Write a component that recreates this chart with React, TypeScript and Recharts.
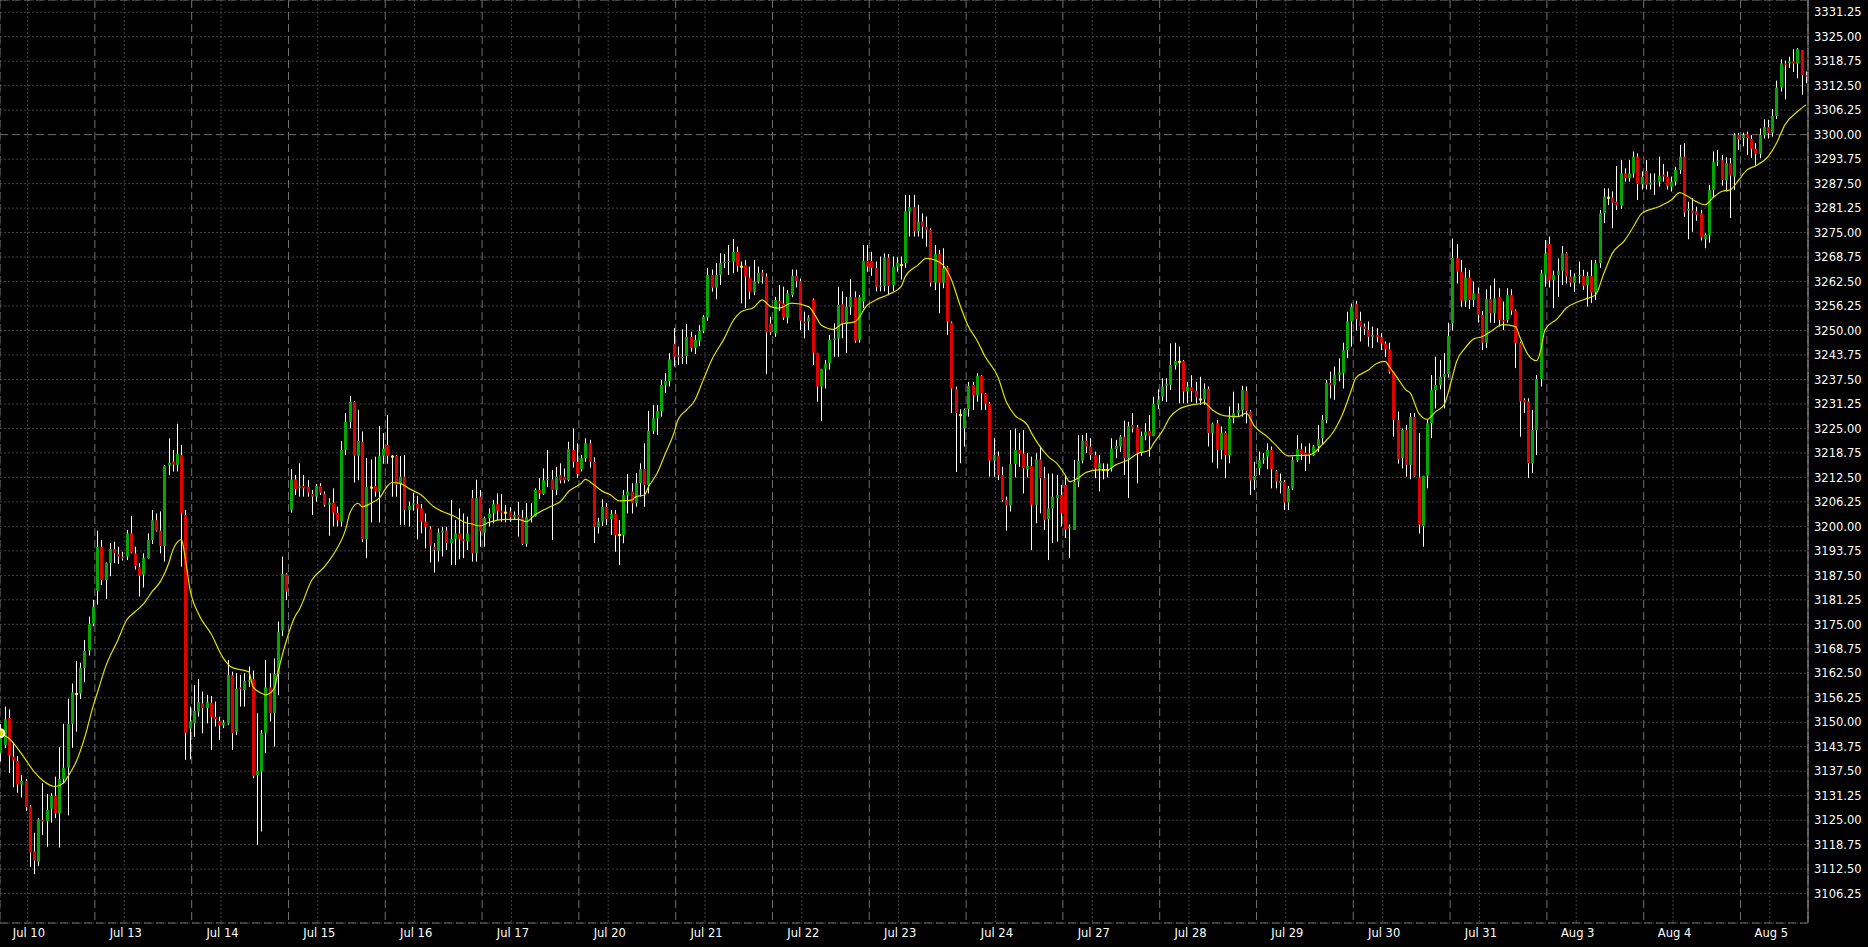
import { ComposedChart, Bar, Line, XAxis, YAxis, CartesianGrid } from 'recharts';

const dayLabels = [
  'Jul 10', 'Jul 13', 'Jul 14', 'Jul 15', 'Jul 16', 'Jul 17', 'Jul 20', 'Jul 21', 'Jul 22', 'Jul 23',
  'Jul 24', 'Jul 27', 'Jul 28', 'Jul 29', 'Jul 30', 'Jul 31', 'Aug 3', 'Aug 4', 'Aug 5',
];

const priceTicks = [
  3106.25, 3112.5, 3118.75, 3125, 3131.25, 3137.5, 3143.75, 3150, 3156.25, 3162.5, 3168.75, 3175,
  3181.25, 3187.5, 3193.75, 3200, 3206.25, 3212.5, 3218.75, 3225, 3231.25, 3237.5, 3243.75, 3250,
  3256.25, 3262.5, 3268.75, 3275, 3281.25, 3287.5, 3293.75, 3300, 3306.25, 3312.5, 3318.75, 3325, 3331.25,
];

// horizontal level drawn dashed
const levelPrice = 3300;

// H1 bars: [open, high, low, close]
const candles: number[][] = [
  // Jul 10
  [3142.2, 3149.5, 3140.0, 3146.5], [3144.2, 3154.0, 3143.4, 3150.8], [3151.1, 3153.3, 3137.0, 3141.5],
  [3141.2, 3144.8, 3133.4, 3140.2], [3140.1, 3141.4, 3132.0, 3134.1], [3134.1, 3136.5, 3130.8, 3135.0],
  [3135.0, 3135.5, 3127.4, 3128.3], [3128.5, 3128.9, 3113.1, 3116.7], [3117.0, 3121.8, 3111.2, 3114.7],
  [3114.4, 3125.5, 3113.3, 3125.2], [3125.1, 3134.4, 3121.2, 3124.6], [3124.8, 3131.7, 3118.2, 3127.6],
  [3127.9, 3131.9, 3124.4, 3131.2], [3131.2, 3136.1, 3125.5, 3126.7], [3126.7, 3143.6, 3118.0, 3135.5],
  [3135.5, 3149.6, 3134.4, 3138.4], [3138.4, 3156.0, 3126.2, 3149.6], [3149.6, 3159.9, 3143.5, 3157.6],
  [3157.2, 3165.6, 3147.6, 3157.2], [3157.3, 3165.2, 3155.9, 3163.9], [3163.9, 3171.0, 3160.2, 3168.2],
  [3168.3, 3177.0, 3167.0, 3175.1], [3175.1, 3181.2, 3174.5, 3179.5],
  // Jul 13
  [3183.6, 3198.9, 3180.0, 3194.8], [3194.8, 3196.5, 3185.0, 3186.3], [3186.3, 3190.8, 3181.5, 3190.6],
  [3190.6, 3195.7, 3187.3, 3194.2], [3194.2, 3196.1, 3190.6, 3193.1], [3193.0, 3194.8, 3190.4, 3192.3],
  [3192.3, 3193.5, 3191.3, 3191.8], [3192.3, 3199.1, 3191.4, 3198.2], [3198.2, 3202.7, 3193.1, 3193.3],
  [3193.1, 3194.8, 3189.0, 3189.9], [3189.6, 3190.6, 3182.1, 3187.4], [3187.7, 3193.1, 3184.4, 3191.9],
  [3191.9, 3198.2, 3191.8, 3196.5], [3196.5, 3204.2, 3195.5, 3201.6], [3201.6, 3203.3, 3198.7, 3198.9],
  [3198.9, 3203.8, 3193.1, 3195.0], [3195.0, 3215.7, 3191.0, 3215.4], [3215.6, 3222.5, 3213.1, 3216.3],
  [3216.5, 3219.5, 3214.0, 3215.8], [3215.7, 3226.2, 3214.0, 3218.5], [3218.2, 3220.8, 3189.7, 3203.3],
  [3202.9, 3204.2, 3140.4, 3147.3], [3148.4, 3154.0, 3140.5, 3150.2],
  // Jul 14
  [3149.7, 3159.5, 3146.3, 3152.9], [3152.7, 3161.0, 3151.4, 3155.1], [3154.8, 3157.8, 3147.2, 3153.6],
  [3153.6, 3157.0, 3149.7, 3155.1], [3155.0, 3156.7, 3142.9, 3151.4], [3151.4, 3155.3, 3148.9, 3150.8],
  [3150.3, 3151.4, 3145.5, 3149.1], [3149.2, 3150.6, 3148.5, 3149.9], [3149.7, 3165.9, 3149.3, 3162.0],
  [3162.0, 3162.9, 3142.9, 3147.2], [3147.6, 3162.5, 3146.7, 3158.6], [3158.9, 3162.1, 3154.0, 3158.4],
  [3158.2, 3162.5, 3154.0, 3160.5], [3160.4, 3164.2, 3159.0, 3160.8], [3161.0, 3163.2, 3135.7, 3136.3],
  [3136.5, 3152.3, 3118.7, 3137.6], [3137.4, 3148.0, 3122.1, 3147.2], [3147.3, 3165.9, 3142.1, 3158.9],
  [3158.9, 3162.5, 3150.2, 3152.3], [3152.3, 3166.3, 3143.8, 3162.3], [3162.3, 3175.7, 3156.9, 3173.1],
  [3173.4, 3192.3, 3172.0, 3187.8], [3187.8, 3188.0, 3181.2, 3183.3],
  // Jul 15
  [3204.2, 3214.6, 3203.5, 3212.0], [3212.0, 3213.1, 3208.0, 3209.5], [3209.8, 3216.1, 3207.6, 3210.2],
  [3210.3, 3213.1, 3207.6, 3209.7], [3210.1, 3211.8, 3207.6, 3208.6], [3208.3, 3209.3, 3202.9, 3207.6],
  [3207.6, 3210.8, 3206.3, 3210.3], [3210.3, 3211.0, 3208.0, 3208.6], [3208.3, 3208.9, 3205.0, 3205.5],
  [3205.5, 3207.2, 3197.6, 3206.1], [3206.1, 3209.7, 3200.0, 3203.5], [3203.5, 3205.0, 3200.0, 3201.5],
  [3201.2, 3221.8, 3200.0, 3219.5], [3219.5, 3228.9, 3218.2, 3226.7], [3226.7, 3233.3, 3225.0, 3231.8],
  [3231.8, 3232.0, 3211.2, 3218.0], [3218.0, 3229.7, 3211.8, 3221.8], [3221.6, 3224.2, 3196.0, 3196.7],
  [3196.7, 3217.4, 3191.9, 3210.1], [3209.9, 3217.1, 3201.0, 3209.9], [3210.3, 3217.8, 3207.6, 3208.9],
  [3208.9, 3225.6, 3201.0, 3218.0], [3218.0, 3223.8, 3216.0, 3219.9],
  // Jul 16
  [3220.8, 3228.4, 3216.0, 3218.0], [3217.8, 3218.2, 3207.6, 3217.8], [3218.0, 3218.2, 3207.6, 3210.6],
  [3210.8, 3218.0, 3200.4, 3212.7], [3212.7, 3218.2, 3200.4, 3204.2], [3204.2, 3206.3, 3200.0, 3205.2],
  [3205.5, 3208.6, 3204.0, 3205.9], [3205.7, 3207.8, 3196.7, 3204.6], [3204.6, 3205.7, 3198.2, 3201.2],
  [3201.2, 3203.3, 3194.4, 3199.9], [3199.5, 3200.0, 3190.8, 3195.1], [3194.8, 3195.7, 3188.2, 3194.0],
  [3193.8, 3199.5, 3191.0, 3198.4], [3198.4, 3199.9, 3192.3, 3198.9], [3198.9, 3199.9, 3194.0, 3195.7],
  [3195.7, 3206.7, 3190.1, 3196.8], [3196.8, 3201.6, 3190.1, 3198.2], [3198.2, 3204.6, 3191.6, 3196.8],
  [3196.7, 3203.3, 3191.9, 3196.3], [3196.2, 3202.5, 3194.0, 3198.2], [3207.2, 3209.3, 3191.0, 3193.1],
  [3193.1, 3211.9, 3191.0, 3207.2], [3207.6, 3209.3, 3194.8, 3198.7],
  // Jul 17
  [3198.4, 3202.5, 3194.8, 3202.1], [3202.1, 3204.6, 3200.0, 3203.3], [3203.3, 3206.7, 3200.8, 3205.7],
  [3205.7, 3208.4, 3201.6, 3204.0], [3204.0, 3208.3, 3201.2, 3203.5], [3203.5, 3205.5, 3201.0, 3203.5],
  [3203.8, 3204.9, 3201.2, 3202.3], [3202.3, 3203.8, 3201.6, 3202.9], [3202.9, 3206.3, 3197.4, 3202.3],
  [3202.3, 3204.2, 3195.2, 3195.5], [3195.5, 3205.9, 3194.8, 3202.3], [3202.3, 3205.9, 3201.0, 3202.6],
  [3202.6, 3209.7, 3202.5, 3209.3], [3209.3, 3212.3, 3207.0, 3208.5], [3208.3, 3214.8, 3208.0, 3211.8],
  [3211.8, 3219.5, 3210.0, 3212.1], [3212.0, 3214.4, 3196.5, 3209.3], [3209.3, 3215.2, 3208.0, 3212.7],
  [3213.1, 3216.1, 3211.0, 3211.7], [3212.7, 3214.8, 3211.0, 3211.8], [3211.8, 3221.6, 3211.5, 3219.7],
  [3219.5, 3225.0, 3215.0, 3216.5], [3216.5, 3221.2, 3212.3, 3213.4],
  // Jul 20
  [3214.6, 3218.2, 3214.0, 3217.4], [3217.4, 3222.5, 3216.5, 3221.2], [3221.2, 3222.1, 3215.0, 3216.5],
  [3216.5, 3217.6, 3195.8, 3199.9], [3199.9, 3202.2, 3198.2, 3201.2], [3201.2, 3206.9, 3200.1, 3205.0],
  [3205.0, 3206.0, 3200.4, 3201.9], [3201.9, 3204.2, 3197.8, 3203.2], [3203.2, 3204.2, 3193.5, 3197.8],
  [3197.8, 3201.6, 3190.1, 3197.8], [3197.8, 3209.3, 3195.7, 3208.0], [3208.0, 3213.4, 3203.3, 3208.9],
  [3208.9, 3211.0, 3203.3, 3205.9], [3205.9, 3213.6, 3205.0, 3211.0], [3211.0, 3216.1, 3207.6, 3214.6],
  [3214.6, 3221.2, 3205.0, 3210.6], [3210.6, 3229.5, 3208.4, 3224.4], [3224.4, 3231.0, 3223.6, 3227.6],
  [3227.6, 3231.0, 3223.3, 3229.4], [3229.4, 3237.4, 3228.0, 3236.1], [3236.1, 3239.1, 3234.1, 3237.1],
  [3237.1, 3244.2, 3235.7, 3242.6], [3246.6, 3250.6, 3240.8, 3243.2],
  // Jul 21
  [3243.7, 3245.9, 3241.2, 3243.2], [3242.9, 3250.3, 3241.5, 3243.3], [3243.5, 3251.7, 3241.5, 3248.4],
  [3248.4, 3249.7, 3244.6, 3245.6], [3245.6, 3248.9, 3244.0, 3247.6], [3247.4, 3251.4, 3246.0, 3249.9],
  [3249.9, 3253.9, 3249.3, 3253.5], [3253.3, 3265.9, 3252.5, 3264.2], [3264.2, 3265.6, 3259.9, 3260.9],
  [3260.9, 3267.2, 3258.0, 3264.2], [3264.2, 3269.7, 3261.6, 3267.2], [3267.2, 3269.5, 3266.0, 3267.6],
  [3267.6, 3271.8, 3264.2, 3267.8], [3267.6, 3273.4, 3264.6, 3270.1], [3270.1, 3271.4, 3265.0, 3266.5],
  [3266.3, 3267.6, 3256.9, 3266.3], [3266.7, 3268.0, 3255.7, 3263.8], [3263.5, 3266.3, 3258.0, 3259.9],
  [3259.9, 3268.0, 3259.0, 3262.5], [3262.5, 3266.3, 3262.0, 3264.8], [3264.8, 3265.5, 3262.0, 3263.8],
  [3263.8, 3264.6, 3238.9, 3249.5], [3251.8, 3253.5, 3248.9, 3249.5],
  // Jul 22
  [3249.3, 3258.6, 3248.4, 3257.8], [3257.5, 3261.6, 3255.0, 3256.8], [3256.9, 3261.2, 3252.7, 3253.3],
  [3253.3, 3260.3, 3251.8, 3259.5], [3259.1, 3265.6, 3258.5, 3264.0], [3264.0, 3265.5, 3261.0, 3262.6],
  [3262.6, 3263.3, 3250.1, 3252.5], [3252.3, 3254.8, 3248.0, 3251.8], [3252.3, 3253.9, 3250.1, 3253.3],
  [3257.8, 3258.2, 3241.2, 3244.3], [3244.3, 3244.3, 3231.8, 3235.7], [3235.7, 3240.2, 3226.9, 3240.2],
  [3240.2, 3242.5, 3235.2, 3241.4], [3241.6, 3248.9, 3240.0, 3247.6], [3247.6, 3251.8, 3243.3, 3248.0],
  [3248.0, 3261.2, 3243.3, 3256.5], [3256.8, 3260.0, 3248.0, 3251.7], [3251.7, 3258.6, 3244.3, 3256.1],
  [3255.9, 3263.1, 3254.0, 3258.5], [3258.5, 3260.0, 3246.9, 3247.4], [3247.6, 3259.1, 3246.9, 3258.5],
  [3257.4, 3271.8, 3255.7, 3267.8], [3267.8, 3271.8, 3265.0, 3266.3],
  // Jul 23
  [3267.8, 3270.1, 3264.0, 3266.0], [3266.0, 3267.6, 3260.0, 3261.2], [3261.2, 3268.9, 3260.0, 3261.5],
  [3261.4, 3269.7, 3260.0, 3268.6], [3268.6, 3269.5, 3259.0, 3261.4], [3261.6, 3268.9, 3260.0, 3266.3],
  [3266.3, 3268.7, 3265.0, 3267.3], [3266.7, 3268.9, 3263.0, 3266.7], [3267.2, 3284.6, 3266.0, 3280.4],
  [3280.4, 3284.6, 3274.0, 3281.5], [3281.5, 3284.6, 3274.0, 3275.3], [3275.3, 3282.1, 3274.0, 3277.8],
  [3277.8, 3279.9, 3273.5, 3276.5], [3276.5, 3279.1, 3271.4, 3275.7], [3275.7, 3276.1, 3261.2, 3262.2],
  [3262.2, 3271.8, 3260.3, 3269.5], [3269.5, 3270.6, 3254.4, 3262.2], [3262.2, 3271.0, 3260.8, 3265.9],
  [3266.1, 3266.5, 3248.9, 3252.3], [3252.0, 3252.3, 3228.9, 3235.2], [3235.0, 3235.7, 3213.9, 3228.9],
  [3228.4, 3229.9, 3216.1, 3228.4], [3225.0, 3230.1, 3220.4, 3229.7],
  // Jul 24
  [3229.9, 3236.9, 3228.0, 3235.8], [3236.1, 3236.9, 3229.7, 3233.5], [3233.5, 3239.1, 3231.8, 3238.4],
  [3238.4, 3238.6, 3229.7, 3234.0], [3233.8, 3234.0, 3229.7, 3231.3], [3231.3, 3231.8, 3212.7, 3216.8],
  [3216.8, 3222.5, 3212.7, 3218.2], [3218.0, 3219.1, 3211.8, 3213.1], [3213.1, 3215.2, 3206.3, 3206.7],
  [3206.7, 3207.6, 3198.9, 3205.3], [3205.3, 3224.6, 3203.8, 3215.9], [3215.9, 3225.0, 3212.5, 3219.5],
  [3219.5, 3223.8, 3215.2, 3218.5], [3218.6, 3224.6, 3208.4, 3214.8], [3214.6, 3218.7, 3212.5, 3215.4],
  [3215.4, 3217.8, 3193.9, 3205.5], [3205.5, 3218.7, 3200.8, 3217.1], [3217.1, 3220.4, 3203.3, 3212.3],
  [3212.3, 3215.2, 3199.1, 3201.6], [3201.8, 3213.5, 3191.4, 3204.6], [3204.6, 3213.5, 3195.7, 3207.6],
  [3207.2, 3213.1, 3196.1, 3208.0], [3208.0, 3210.6, 3200.0, 3203.3],
  // Jul 27
  [3210.6, 3213.1, 3197.0, 3199.1], [3199.5, 3200.5, 3191.9, 3199.9], [3199.1, 3217.0, 3199.1, 3211.4],
  [3211.4, 3223.3, 3210.0, 3216.8], [3216.8, 3223.3, 3216.1, 3221.9], [3221.9, 3223.8, 3218.7, 3220.4],
  [3220.4, 3222.5, 3217.0, 3218.2], [3218.2, 3219.1, 3212.3, 3214.8], [3214.8, 3218.2, 3208.9, 3216.1],
  [3214.4, 3216.1, 3212.0, 3214.4], [3214.4, 3216.0, 3212.5, 3214.4], [3214.8, 3222.5, 3214.0, 3219.9],
  [3219.7, 3222.1, 3217.4, 3220.5], [3220.4, 3223.3, 3219.0, 3222.9], [3222.9, 3227.0, 3213.1, 3217.4],
  [3217.4, 3226.7, 3207.2, 3225.6], [3225.9, 3228.9, 3224.0, 3225.0], [3225.3, 3225.9, 3211.0, 3218.8],
  [3218.8, 3224.2, 3218.0, 3223.1], [3223.3, 3226.3, 3222.0, 3224.2], [3224.4, 3228.4, 3217.8, 3223.1],
  [3223.1, 3233.1, 3223.0, 3231.3], [3231.1, 3235.0, 3230.0, 3232.4],
  // Jul 28
  [3233.1, 3237.8, 3232.0, 3235.7], [3235.9, 3237.8, 3231.8, 3236.4], [3236.1, 3246.7, 3234.8, 3241.2],
  [3241.2, 3246.9, 3240.0, 3242.2], [3242.0, 3245.9, 3231.4, 3242.0], [3242.2, 3242.5, 3231.4, 3234.4],
  [3234.4, 3236.9, 3231.4, 3235.7], [3235.5, 3238.6, 3231.8, 3234.6], [3234.6, 3236.9, 3231.4, 3233.0],
  [3232.4, 3238.2, 3231.0, 3232.4], [3232.4, 3236.5, 3231.0, 3235.1], [3235.1, 3235.7, 3220.4, 3223.8],
  [3223.8, 3226.5, 3216.3, 3226.2], [3226.3, 3227.2, 3214.8, 3219.5], [3219.5, 3225.5, 3217.1, 3224.0],
  [3223.9, 3224.2, 3212.3, 3218.2], [3218.1, 3230.6, 3216.1, 3227.6], [3227.6, 3234.4, 3226.3, 3228.9],
  [3229.0, 3231.4, 3228.0, 3229.7], [3229.6, 3235.9, 3228.0, 3234.8], [3234.6, 3235.7, 3226.3, 3229.5],
  [3229.4, 3229.7, 3208.0, 3211.7], [3211.8, 3216.5, 3209.3, 3212.9],
  // Jul 29
  [3214.8, 3219.1, 3213.1, 3216.9], [3217.0, 3218.7, 3216.0, 3217.4], [3217.8, 3221.2, 3214.6, 3219.5],
  [3219.5, 3220.4, 3209.7, 3214.6], [3214.1, 3214.4, 3209.7, 3211.4], [3211.0, 3213.5, 3208.4, 3211.6],
  [3211.4, 3211.8, 3204.2, 3206.1], [3206.1, 3210.3, 3204.2, 3209.7], [3209.7, 3217.8, 3209.3, 3216.9],
  [3216.9, 3223.3, 3216.5, 3219.7], [3219.7, 3221.2, 3216.9, 3218.4], [3218.8, 3220.4, 3214.1, 3218.2],
  [3218.7, 3221.2, 3216.0, 3218.2], [3218.2, 3220.8, 3218.0, 3220.4], [3220.4, 3225.9, 3219.0, 3222.2],
  [3222.5, 3228.4, 3220.8, 3227.2], [3227.2, 3237.4, 3226.3, 3236.7], [3236.7, 3239.5, 3232.7, 3236.0],
  [3236.0, 3240.8, 3232.3, 3238.7], [3238.7, 3242.9, 3237.0, 3239.3], [3239.1, 3246.9, 3235.2, 3245.0],
  [3245.0, 3254.8, 3243.0, 3252.3], [3252.3, 3256.9, 3245.9, 3256.1],
  // Jul 30
  [3256.8, 3257.6, 3250.0, 3252.9], [3252.5, 3254.8, 3247.2, 3251.0], [3251.0, 3251.8, 3248.9, 3250.3],
  [3250.1, 3252.3, 3245.9, 3248.4], [3248.4, 3251.0, 3245.5, 3248.9], [3248.9, 3250.6, 3247.0, 3248.3],
  [3248.3, 3249.3, 3245.0, 3246.7], [3246.7, 3247.2, 3243.2, 3245.2], [3245.2, 3246.9, 3239.0, 3239.5],
  [3239.5, 3239.5, 3222.9, 3227.2], [3227.2, 3229.3, 3216.0, 3217.1], [3217.4, 3225.0, 3214.8, 3224.6],
  [3224.6, 3225.9, 3212.7, 3215.7], [3215.7, 3228.9, 3212.0, 3227.9], [3227.9, 3228.9, 3212.7, 3212.9],
  [3212.5, 3223.8, 3198.2, 3200.4], [3200.1, 3212.9, 3194.8, 3212.9], [3212.9, 3227.2, 3209.7, 3226.3],
  [3226.3, 3238.6, 3222.5, 3234.8], [3234.8, 3243.3, 3230.1, 3236.1], [3236.1, 3242.5, 3235.0, 3238.2],
  [3238.2, 3244.2, 3230.1, 3238.9], [3238.9, 3252.0, 3238.0, 3248.6],
  // Jul 31
  [3251.8, 3273.5, 3250.0, 3268.5], [3268.5, 3272.0, 3262.0, 3265.0], [3265.0, 3268.0, 3256.0, 3257.6],
  [3257.6, 3266.0, 3256.0, 3263.5], [3263.5, 3265.5, 3255.5, 3257.8], [3257.8, 3262.5, 3256.0, 3259.5],
  [3259.5, 3261.0, 3252.0, 3254.0], [3254.0, 3255.0, 3245.0, 3246.9], [3246.9, 3260.5, 3245.5, 3258.0],
  [3258.0, 3261.5, 3252.0, 3254.4], [3254.4, 3263.3, 3251.9, 3258.2], [3258.6, 3260.8, 3251.0, 3252.7],
  [3252.7, 3257.4, 3250.1, 3252.3], [3252.7, 3260.8, 3252.0, 3259.1], [3259.1, 3260.5, 3254.0, 3255.1],
  [3255.1, 3255.4, 3240.4, 3246.8], [3246.8, 3247.2, 3222.9, 3231.9], [3232.3, 3232.7, 3228.9, 3231.6],
  [3231.9, 3232.7, 3212.3, 3216.1], [3216.1, 3229.7, 3213.6, 3224.6], [3224.6, 3238.6, 3218.2, 3237.6],
  [3237.6, 3265.5, 3235.7, 3264.6], [3264.2, 3273.1, 3261.2, 3269.7],
  // Aug 3
  [3272.1, 3274.0, 3261.0, 3262.8], [3262.9, 3265.3, 3255.7, 3264.2], [3264.2, 3268.4, 3258.6, 3265.3],
  [3265.3, 3271.6, 3261.6, 3269.7], [3269.7, 3270.0, 3262.0, 3263.8], [3263.8, 3265.5, 3261.2, 3262.2],
  [3262.1, 3264.6, 3259.9, 3263.8], [3263.8, 3267.6, 3262.0, 3264.2], [3263.9, 3265.5, 3260.4, 3261.4],
  [3261.6, 3265.0, 3256.1, 3263.9], [3263.9, 3268.0, 3257.0, 3259.7], [3259.7, 3268.0, 3257.8, 3267.2],
  [3267.2, 3280.8, 3266.0, 3279.9], [3279.9, 3286.3, 3277.4, 3284.2], [3283.9, 3286.3, 3282.0, 3283.9],
  [3283.9, 3285.5, 3276.1, 3282.6], [3282.9, 3292.0, 3280.8, 3281.9], [3281.9, 3293.5, 3281.0, 3290.1],
  [3290.1, 3291.4, 3288.0, 3288.9], [3288.9, 3293.5, 3288.0, 3290.1], [3290.1, 3295.7, 3289.0, 3294.4],
  [3294.4, 3295.2, 3283.3, 3287.4], [3287.3, 3290.6, 3286.0, 3289.3],
  // Aug 4
  [3290.7, 3293.5, 3286.0, 3287.2], [3287.2, 3290.1, 3286.0, 3287.8], [3288.0, 3290.1, 3284.6, 3288.3],
  [3288.0, 3294.4, 3286.7, 3289.5], [3289.8, 3292.5, 3288.0, 3289.3], [3289.3, 3290.6, 3286.0, 3286.9],
  [3286.7, 3289.3, 3285.5, 3288.0], [3288.0, 3291.8, 3287.0, 3291.0], [3291.0, 3297.4, 3290.0, 3294.4],
  [3294.4, 3297.8, 3279.0, 3280.1], [3280.6, 3282.9, 3273.3, 3281.1], [3280.6, 3283.8, 3275.2, 3279.9],
  [3280.4, 3281.6, 3278.0, 3279.5], [3279.9, 3280.8, 3273.0, 3273.8], [3273.4, 3274.8, 3271.0, 3274.4],
  [3274.4, 3287.2, 3272.4, 3285.9], [3285.9, 3295.7, 3284.0, 3293.1], [3293.1, 3296.1, 3292.0, 3293.4],
  [3293.5, 3294.8, 3287.0, 3288.4], [3288.3, 3294.2, 3285.5, 3292.7], [3292.7, 3294.0, 3278.7, 3289.5],
  [3289.3, 3300.4, 3285.9, 3299.9], [3299.9, 3300.4, 3296.1, 3298.8],
  // Aug 5
  [3299.1, 3300.5, 3297.0, 3299.9], [3300.1, 3300.8, 3294.8, 3299.1], [3298.9, 3299.9, 3294.0, 3296.4],
  [3296.4, 3297.8, 3292.0, 3295.1], [3295.1, 3301.6, 3294.0, 3299.9], [3299.9, 3303.9, 3299.0, 3301.9],
  [3301.9, 3303.8, 3299.0, 3300.4], [3300.5, 3306.5, 3299.5, 3304.8], [3304.8, 3313.8, 3304.0, 3312.0],
  [3312.0, 3319.2, 3311.0, 3318.2], [3318.2, 3318.9, 3309.0, 3317.8], [3318.2, 3319.9, 3317.0, 3318.7],
  [3318.7, 3321.8, 3316.0, 3318.1], [3318.1, 3322.1, 3314.4, 3321.8], [3321.6, 3321.6, 3310.2, 3315.2],
  [3315.2, 3316.1, 3313.1, 3314.8],
];

// moving average: [bar index, value]
const maPoints: number[][] = [
  [0, 3147.2], [2, 3145.9], [5, 3142.0], [8, 3137.4], [10, 3135.2], [13, 3133.6], [15, 3134.5], [16, 3136.1],
  [18, 3139.9], [20, 3146.0], [22, 3154.0], [23, 3157.4], [25, 3164.2], [28, 3171.2], [30, 3176.1], [32, 3178.2],
  [34, 3180.2], [36, 3183.3], [38, 3185.9], [40, 3190.6], [41, 3194.0], [43, 3196.6], [44, 3191.4], [45, 3184.2],
  [47, 3177.8], [50, 3172.7], [53, 3166.3], [55, 3164.0], [59, 3162.9], [60, 3159.1], [62, 3157.4], [63, 3157.0],
  [65, 3158.5], [66, 3163.0], [68, 3171.0], [70, 3177.0], [71, 3178.7], [74, 3186.3], [77, 3189.7], [80, 3194.4],
  [82, 3199.1], [83, 3203.3], [85, 3205.9], [86, 3205.0], [88, 3205.9], [90, 3207.2], [92, 3210.3], [93, 3211.2],
  [95, 3211.0], [97, 3209.7], [100, 3208.0], [103, 3205.0], [105, 3203.8], [108, 3202.5], [110, 3201.2],
  [112, 3200.6], [114, 3200.1], [116, 3201.0], [120, 3201.8], [123, 3201.8], [125, 3201.2], [127, 3202.9],
  [131, 3205.2], [133, 3206.3], [135, 3208.9], [138, 3211.0], [139, 3212.0], [141, 3210.6], [143, 3209.0],
  [145, 3208.0], [147, 3206.5], [150, 3206.7], [151, 3207.6], [153, 3208.0], [154, 3210.1], [156, 3213.5],
  [158, 3218.6], [160, 3223.7], [161, 3227.2], [163, 3229.7], [165, 3232.2], [167, 3237.4], [169, 3242.5],
  [172, 3248.0], [174, 3252.3], [176, 3254.8], [179, 3255.9], [181, 3257.8], [183, 3256.1], [185, 3255.7],
  [188, 3257.0], [192, 3256.1], [194, 3253.1], [195, 3251.4], [198, 3250.3], [200, 3251.7], [203, 3252.2],
  [206, 3256.5], [208, 3257.8], [211, 3259.2], [214, 3261.2], [215, 3263.8], [218, 3266.7], [220, 3268.4],
  [222, 3268.0], [224, 3266.7], [226, 3262.9], [228, 3256.5], [230, 3251.0], [232, 3247.6], [234, 3243.3],
  [237, 3238.2], [239, 3231.8], [241, 3228.4], [244, 3225.9], [245, 3223.8], [247, 3220.4], [249, 3217.8],
  [251, 3216.1], [253, 3213.1], [254, 3211.4], [256, 3212.3], [258, 3213.8], [261, 3214.4], [263, 3214.4],
  [265, 3215.7], [268, 3217.0], [270, 3218.5], [273, 3219.5], [274, 3221.2], [276, 3224.2], [278, 3228.0],
  [280, 3229.9], [283, 3231.0], [285, 3231.3], [286, 3231.6], [288, 3229.7], [291, 3228.2], [294, 3228.0],
  [296, 3228.9], [298, 3225.5], [301, 3222.9], [303, 3220.8], [306, 3218.0], [308, 3218.1], [311, 3218.2],
  [312, 3218.7], [314, 3220.8], [317, 3224.6], [319, 3228.9], [321, 3234.8], [322, 3237.8], [325, 3239.9],
  [327, 3241.6], [329, 3242.1], [330, 3240.8], [332, 3237.8], [334, 3234.8], [335, 3234.0], [337, 3228.9],
  [339, 3227.3], [341, 3229.3], [343, 3231.0], [345, 3238.2], [346, 3242.1], [348, 3245.5], [350, 3247.8],
  [352, 3248.4], [354, 3249.7], [357, 3251.5], [360, 3251.0], [361, 3248.4], [363, 3243.8], [365, 3242.3],
  [366, 3245.0], [367, 3250.2], [370, 3253.1], [372, 3255.7], [375, 3257.4], [377, 3258.2], [379, 3259.1],
  [381, 3264.6], [383, 3269.7], [386, 3273.1], [388, 3276.5], [390, 3279.9], [394, 3281.6], [397, 3283.3],
  [399, 3285.2], [401, 3284.2], [403, 3282.9], [405, 3282.1], [407, 3284.0], [409, 3285.5], [411, 3285.9],
  [413, 3288.4], [415, 3291.0], [417, 3292.0], [420, 3294.4], [422, 3297.8], [424, 3302.5], [427, 3305.9],
  [429, 3307.6],
];

// layout of the MT-style time axis (bar units)
const BARS_PER_DAY = 23;
const LABEL_OFFSET = 6.42;
const SEP_OFFSET = 22.45;
const X_MIN = -0.095;
const X_MAX = 429.49;
const Y_MIN = 3098.75;
const Y_MAX = 3334.375;

const BULL = '#00a800';
const BEAR = '#e00000';
const DOJI = '#ffff00';
const FONT = '"DejaVu Sans", Verdana, sans-serif';

const maByBar = new Map(maPoints.map(([i, v]) => [i, v]));

const data = candles.map(([open, high, low, close], i) => ({
  i,
  open,
  high,
  low,
  close,
  range: [low, high],
  ma: maByBar.has(i) ? maByBar.get(i) : null,
}));

const labelTicks = dayLabels.map((_, k) => LABEL_OFFSET + k * BARS_PER_DAY);
const sepTicks = dayLabels.map((_, k) => SEP_OFFSET + k * BARS_PER_DAY).filter((v) => v < X_MAX);
const gridPriceTicks = priceTicks.filter((v) => v !== levelPrice);

const renderCandle = (props: any) => {
  const { x, y, width, height, payload } = props;
  if (!payload) return <g />;
  const { open, high, low, close } = payload;
  const top = Math.min(y, y + height);
  const bot = Math.max(y, y + height);
  const span = high - low;
  const toY = (v: number) => (span > 0 ? top + ((high - v) / span) * (bot - top) : top);
  const cx = Math.round(x + width / 2);
  const yo = toY(open);
  const yc = toY(close);
  const flat = close === open;
  const color = close > open ? BULL : close < open ? BEAR : DOJI;
  const bodyTop = flat ? yo - 1 : Math.min(yo, yc);
  const bodyH = flat ? 2 : Math.max(1, Math.abs(yc - yo));
  return (
    <g>
      <line x1={cx + 0.5} x2={cx + 0.5} y1={top} y2={bot} stroke="#ffffff" strokeWidth={1} />
      <rect x={cx - 1} y={bodyTop} width={3} height={bodyH} fill={color} />
    </g>
  );
};

const TimeTick = (props: any) => {
  const { x, payload } = props;
  const k = Math.round((payload.value - LABEL_OFFSET) / BARS_PER_DAY);
  return (
    <text x={x + 1.5} y={937} textAnchor="middle" fill="#ffffff" fontFamily={FONT} fontSize={11.5}>
      {dayLabels[k]}
    </text>
  );
};

const PriceTick = (props: any) => {
  const { y, payload } = props;
  return (
    <text x={1814} y={y + 4.2} textAnchor="start" fill="#ffffff" fontFamily={FONT} fontSize={11.5}>
      {Number(payload.value).toFixed(2)}
    </text>
  );
};

export default function App() {
  return (
    <div style={{ position: 'absolute', left: 0, top: 0, width: 1868, height: 947, background: '#000' }}>
      <ComposedChart width={1868} height={947} data={data} margin={{ top: 0, right: 0, bottom: 0, left: 0 }}>
        <XAxis
          xAxisId="t"
          dataKey="i"
          type="number"
          domain={[X_MIN, X_MAX]}
          allowDataOverflow
          ticks={labelTicks}
          interval={0}
          height={24}
          stroke="#8c8c8c"
          tickSize={3}
          tick={<TimeTick />}
        />
        <XAxis xAxisId="sep" dataKey="i" type="number" domain={[X_MIN, X_MAX]} allowDataOverflow ticks={sepTicks} interval={0} hide />
        <YAxis
          yAxisId="p"
          orientation="right"
          type="number"
          domain={[Y_MIN, Y_MAX]}
          allowDataOverflow
          ticks={priceTicks}
          interval={0}
          width={60}
          stroke="#8c8c8c"
          tickLine={false}
          tick={<PriceTick />}
        />
        <YAxis yAxisId="g" type="number" domain={[Y_MIN, Y_MAX]} allowDataOverflow ticks={gridPriceTicks} interval={0} hide />
        <YAxis yAxisId="l" type="number" domain={[Y_MIN, Y_MAX]} allowDataOverflow ticks={[levelPrice]} interval={0} hide />

        {/* dotted grid + dashed day separators and level */}
        <CartesianGrid xAxisId="t" yAxisId="g" stroke="#404040" strokeDasharray="2 2" />
        <CartesianGrid xAxisId="sep" yAxisId="l" stroke="#707070" strokeDasharray="8 4" />

        <Bar xAxisId="t" yAxisId="p" dataKey="range" barSize={4} shape={renderCandle} isAnimationActive={false} />
        <Line
          xAxisId="t"
          yAxisId="p"
          dataKey="ma"
          type="monotone"
          connectNulls
          dot={false}
          stroke="#e0e000"
          strokeWidth={1.2}
          isAnimationActive={false}
        />
      </ComposedChart>
    </div>
  );
}
